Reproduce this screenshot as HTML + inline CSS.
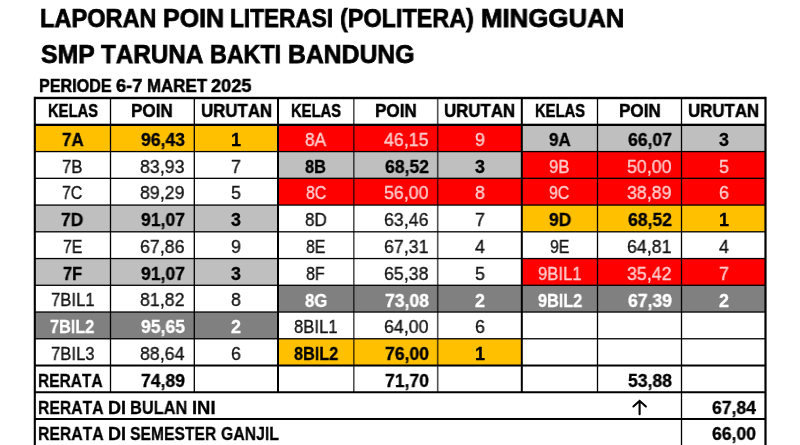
<!DOCTYPE html>
<html><head><meta charset="utf-8"><style>
html,body{margin:0;padding:0;background:#fff;}
#r{position:relative;width:800px;height:445px;overflow:hidden;background:#fff;font-family:"Liberation Sans",sans-serif;}
.a{position:absolute;}
.t{position:absolute;white-space:nowrap;transform-origin:0 50%;font-kerning:none;will-change:transform;}
</style></head><body><div id="r">
<div class="a" style="left:34.50px;top:124.85px;width:243.50px;height:26.74px;background:#FFC000"></div>
<div class="a" style="left:34.50px;top:205.07px;width:243.50px;height:26.74px;background:#BFBFBF"></div>
<div class="a" style="left:34.50px;top:258.55px;width:243.50px;height:26.74px;background:#BFBFBF"></div>
<div class="a" style="left:34.50px;top:312.03px;width:243.50px;height:26.74px;background:#808080"></div>
<div class="a" style="left:278.00px;top:124.85px;width:243.80px;height:26.74px;background:#FF0000"></div>
<div class="a" style="left:278.00px;top:151.59px;width:243.80px;height:26.74px;background:#BFBFBF"></div>
<div class="a" style="left:278.00px;top:178.33px;width:243.80px;height:26.74px;background:#FF0000"></div>
<div class="a" style="left:278.00px;top:285.29px;width:243.80px;height:26.74px;background:#808080"></div>
<div class="a" style="left:278.00px;top:338.77px;width:243.80px;height:26.74px;background:#FFC000"></div>
<div class="a" style="left:521.80px;top:124.85px;width:243.70px;height:26.74px;background:#BFBFBF"></div>
<div class="a" style="left:521.80px;top:151.59px;width:243.70px;height:26.74px;background:#FF0000"></div>
<div class="a" style="left:521.80px;top:178.33px;width:243.70px;height:26.74px;background:#FF0000"></div>
<div class="a" style="left:521.80px;top:205.07px;width:243.70px;height:26.74px;background:#FFC000"></div>
<div class="a" style="left:521.80px;top:258.55px;width:243.70px;height:26.74px;background:#FF0000"></div>
<div class="a" style="left:521.80px;top:285.29px;width:243.70px;height:26.74px;background:#808080"></div>
<svg class="a" style="left:0;top:0" width="800" height="445"><rect x="109.85" y="98.00" width="1.30" height="294.25" fill="#000"/><rect x="193.65" y="98.00" width="1.30" height="294.25" fill="#000"/><rect x="277.00" y="98.00" width="2.00" height="294.25" fill="#000"/><rect x="353.00" y="98.00" width="1.60" height="294.25" fill="rgba(0,0,0,0.68)"/><rect x="436.90" y="98.00" width="1.60" height="294.25" fill="rgba(0,0,0,0.68)"/><rect x="520.80" y="98.00" width="2.00" height="294.25" fill="#000"/><rect x="596.85" y="98.00" width="1.30" height="294.25" fill="#000"/><rect x="680.85" y="98.00" width="1.30" height="294.25" fill="#000"/><rect x="680.85" y="392.25" width="1.30" height="52.85" fill="#000"/><rect x="34.50" y="96.80" width="731.00" height="2.40" fill="#000"/><rect x="34.50" y="123.70" width="731.00" height="2.30" fill="#000"/><rect x="34.50" y="150.94" width="731.00" height="1.30" fill="#000"/><rect x="34.50" y="177.68" width="731.00" height="1.30" fill="#000"/><rect x="34.50" y="204.42" width="731.00" height="1.30" fill="#000"/><rect x="34.50" y="231.16" width="731.00" height="1.30" fill="#000"/><rect x="34.50" y="257.90" width="731.00" height="1.30" fill="#000"/><rect x="34.50" y="284.64" width="731.00" height="1.30" fill="#000"/><rect x="34.50" y="311.38" width="731.00" height="1.30" fill="#000"/><rect x="34.50" y="338.12" width="731.00" height="1.30" fill="#000"/><rect x="34.50" y="364.51" width="731.00" height="2.00" fill="#000"/><rect x="34.50" y="391.25" width="731.00" height="2.00" fill="#000"/><rect x="34.50" y="417.99" width="731.00" height="2.00" fill="#000"/><rect x="33.75" y="96.80" width="2.10" height="348.30" fill="#000"/><rect x="764.40" y="96.80" width="2.20" height="348.30" fill="#000"/></svg>
<div class="t" style="left:48.07px;top:95.89px;height:30px;line-height:30px;font-size:18.5px;font-weight:bold;color:#000;-webkit-text-stroke:0.5px #000;transform:scaleX(0.7984)">KELAS</div>
<div class="t" style="left:131.48px;top:95.89px;height:30px;line-height:30px;font-size:18.5px;font-weight:bold;color:#000;-webkit-text-stroke:0.5px #000;transform:scaleX(0.9251)">POIN</div>
<div class="t" style="left:200.59px;top:95.89px;height:30px;line-height:30px;font-size:18.5px;font-weight:bold;color:#000;-webkit-text-stroke:0.5px #000;transform:scaleX(0.9106)">URUTAN</div>
<div class="t" style="left:291.47px;top:95.89px;height:30px;line-height:30px;font-size:18.5px;font-weight:bold;color:#000;-webkit-text-stroke:0.5px #000;transform:scaleX(0.7984)">KELAS</div>
<div class="t" style="left:374.83px;top:95.89px;height:30px;line-height:30px;font-size:18.5px;font-weight:bold;color:#000;-webkit-text-stroke:0.5px #000;transform:scaleX(0.9251)">POIN</div>
<div class="t" style="left:444.19px;top:95.89px;height:30px;line-height:30px;font-size:18.5px;font-weight:bold;color:#000;-webkit-text-stroke:0.5px #000;transform:scaleX(0.9106)">URUTAN</div>
<div class="t" style="left:535.22px;top:95.89px;height:30px;line-height:30px;font-size:18.5px;font-weight:bold;color:#000;-webkit-text-stroke:0.5px #000;transform:scaleX(0.7984)">KELAS</div>
<div class="t" style="left:618.58px;top:95.89px;height:30px;line-height:30px;font-size:18.5px;font-weight:bold;color:#000;-webkit-text-stroke:0.5px #000;transform:scaleX(0.9251)">POIN</div>
<div class="t" style="left:687.94px;top:95.89px;height:30px;line-height:30px;font-size:18.5px;font-weight:bold;color:#000;-webkit-text-stroke:0.5px #000;transform:scaleX(0.9106)">URUTAN</div>
<div class="t" style="left:61.63px;top:125.11px;height:30px;line-height:30px;font-size:18.0px;font-weight:bold;color:#000;-webkit-text-stroke:0.3px #000;transform:scaleX(0.9451)">7A</div>
<div class="t" style="left:141.28px;top:125.11px;height:30px;line-height:30px;font-size:18.0px;font-weight:bold;color:#000;-webkit-text-stroke:0.3px #000;transform:scaleX(0.9772)">96,43</div>
<div class="t" style="left:231.20px;top:125.11px;height:30px;line-height:30px;font-size:18.0px;font-weight:bold;color:#000;-webkit-text-stroke:0.3px #000;transform:scaleX(0.9898)">1</div>
<div class="t" style="left:62.23px;top:151.64px;height:30px;line-height:30px;font-size:18.6px;color:#151515;-webkit-text-stroke:0.35px #151515;transform:scaleX(0.9030)">7B</div>
<div class="t" style="left:140.19px;top:151.64px;height:30px;line-height:30px;font-size:18.6px;color:#151515;-webkit-text-stroke:0.35px #151515;transform:scaleX(0.9563)">83,93</div>
<div class="t" style="left:231.20px;top:151.64px;height:30px;line-height:30px;font-size:18.6px;color:#151515;-webkit-text-stroke:0.35px #151515;transform:scaleX(0.9579)">7</div>
<div class="t" style="left:62.33px;top:178.38px;height:30px;line-height:30px;font-size:18.6px;color:#151515;-webkit-text-stroke:0.35px #151515;transform:scaleX(0.8552)">7C</div>
<div class="t" style="left:140.19px;top:178.38px;height:30px;line-height:30px;font-size:18.6px;color:#151515;-webkit-text-stroke:0.35px #151515;transform:scaleX(0.9563)">89,29</div>
<div class="t" style="left:231.20px;top:178.38px;height:30px;line-height:30px;font-size:18.6px;color:#151515;-webkit-text-stroke:0.35px #151515;transform:scaleX(0.9579)">5</div>
<div class="t" style="left:61.38px;top:205.33px;height:30px;line-height:30px;font-size:18.0px;font-weight:bold;color:#000;-webkit-text-stroke:0.3px #000;transform:scaleX(0.9666)">7D</div>
<div class="t" style="left:141.28px;top:205.33px;height:30px;line-height:30px;font-size:18.0px;font-weight:bold;color:#000;-webkit-text-stroke:0.3px #000;transform:scaleX(0.9772)">91,07</div>
<div class="t" style="left:231.20px;top:205.33px;height:30px;line-height:30px;font-size:18.0px;font-weight:bold;color:#000;-webkit-text-stroke:0.3px #000;transform:scaleX(0.9898)">3</div>
<div class="t" style="left:62.77px;top:231.86px;height:30px;line-height:30px;font-size:18.6px;color:#151515;-webkit-text-stroke:0.35px #151515;transform:scaleX(0.8551)">7E</div>
<div class="t" style="left:140.19px;top:231.86px;height:30px;line-height:30px;font-size:18.6px;color:#151515;-webkit-text-stroke:0.35px #151515;transform:scaleX(0.9563)">67,86</div>
<div class="t" style="left:231.20px;top:231.86px;height:30px;line-height:30px;font-size:18.6px;color:#151515;-webkit-text-stroke:0.35px #151515;transform:scaleX(0.9579)">9</div>
<div class="t" style="left:62.94px;top:258.81px;height:30px;line-height:30px;font-size:18.0px;font-weight:bold;color:#000;-webkit-text-stroke:0.3px #000;transform:scaleX(0.9098)">7F</div>
<div class="t" style="left:141.28px;top:258.81px;height:30px;line-height:30px;font-size:18.0px;font-weight:bold;color:#000;-webkit-text-stroke:0.3px #000;transform:scaleX(0.9772)">91,07</div>
<div class="t" style="left:231.20px;top:258.81px;height:30px;line-height:30px;font-size:18.0px;font-weight:bold;color:#000;-webkit-text-stroke:0.3px #000;transform:scaleX(0.9898)">3</div>
<div class="t" style="left:50.70px;top:285.34px;height:30px;line-height:30px;font-size:18.6px;color:#151515;-webkit-text-stroke:0.35px #151515;transform:scaleX(0.8969)">7BIL1</div>
<div class="t" style="left:140.19px;top:285.34px;height:30px;line-height:30px;font-size:18.6px;color:#151515;-webkit-text-stroke:0.35px #151515;transform:scaleX(0.9563)">81,82</div>
<div class="t" style="left:231.20px;top:285.34px;height:30px;line-height:30px;font-size:18.6px;color:#151515;-webkit-text-stroke:0.35px #151515;transform:scaleX(0.9579)">8</div>
<div class="t" style="left:50.37px;top:312.29px;height:30px;line-height:30px;font-size:18.0px;font-weight:bold;color:#FFF;-webkit-text-stroke:0.3px #FFF;transform:scaleX(0.9029)">7BIL2</div>
<div class="t" style="left:141.28px;top:312.29px;height:30px;line-height:30px;font-size:18.0px;font-weight:bold;color:#FFF;-webkit-text-stroke:0.3px #FFF;transform:scaleX(0.9772)">95,65</div>
<div class="t" style="left:231.20px;top:312.29px;height:30px;line-height:30px;font-size:18.0px;font-weight:bold;color:#FFF;-webkit-text-stroke:0.3px #FFF;transform:scaleX(0.9898)">2</div>
<div class="t" style="left:50.70px;top:338.82px;height:30px;line-height:30px;font-size:18.6px;color:#151515;-webkit-text-stroke:0.35px #151515;transform:scaleX(0.8969)">7BIL3</div>
<div class="t" style="left:140.19px;top:338.82px;height:30px;line-height:30px;font-size:18.6px;color:#151515;-webkit-text-stroke:0.35px #151515;transform:scaleX(0.9563)">88,64</div>
<div class="t" style="left:231.20px;top:338.82px;height:30px;line-height:30px;font-size:18.6px;color:#151515;-webkit-text-stroke:0.35px #151515;transform:scaleX(0.9579)">6</div>
<div class="t" style="left:305.29px;top:124.90px;height:30px;line-height:30px;font-size:18.6px;color:#FFCCCC;-webkit-text-stroke:0.35px #FFCCCC;transform:scaleX(0.9328)">8A</div>
<div class="t" style="left:383.59px;top:124.90px;height:30px;line-height:30px;font-size:18.6px;color:#FFCCCC;-webkit-text-stroke:0.35px #FFCCCC;transform:scaleX(0.9563)">46,15</div>
<div class="t" style="left:474.80px;top:124.90px;height:30px;line-height:30px;font-size:18.6px;color:#FFCCCC;-webkit-text-stroke:0.35px #FFCCCC;transform:scaleX(0.9579)">9</div>
<div class="t" style="left:305.44px;top:151.85px;height:30px;line-height:30px;font-size:18.0px;font-weight:bold;color:#000;-webkit-text-stroke:0.3px #000;transform:scaleX(0.9094)">8B</div>
<div class="t" style="left:384.68px;top:151.85px;height:30px;line-height:30px;font-size:18.0px;font-weight:bold;color:#000;-webkit-text-stroke:0.3px #000;transform:scaleX(0.9772)">68,52</div>
<div class="t" style="left:474.80px;top:151.85px;height:30px;line-height:30px;font-size:18.0px;font-weight:bold;color:#000;-webkit-text-stroke:0.3px #000;transform:scaleX(0.9898)">3</div>
<div class="t" style="left:305.73px;top:178.38px;height:30px;line-height:30px;font-size:18.6px;color:#FFCCCC;-webkit-text-stroke:0.35px #FFCCCC;transform:scaleX(0.8552)">8C</div>
<div class="t" style="left:383.59px;top:178.38px;height:30px;line-height:30px;font-size:18.6px;color:#FFCCCC;-webkit-text-stroke:0.35px #FFCCCC;transform:scaleX(0.9563)">56,00</div>
<div class="t" style="left:474.80px;top:178.38px;height:30px;line-height:30px;font-size:18.6px;color:#FFCCCC;-webkit-text-stroke:0.35px #FFCCCC;transform:scaleX(0.9579)">8</div>
<div class="t" style="left:304.93px;top:205.12px;height:30px;line-height:30px;font-size:18.6px;color:#151515;-webkit-text-stroke:0.35px #151515;transform:scaleX(0.9226)">8D</div>
<div class="t" style="left:383.59px;top:205.12px;height:30px;line-height:30px;font-size:18.6px;color:#151515;-webkit-text-stroke:0.35px #151515;transform:scaleX(0.9563)">63,46</div>
<div class="t" style="left:474.80px;top:205.12px;height:30px;line-height:30px;font-size:18.6px;color:#151515;-webkit-text-stroke:0.35px #151515;transform:scaleX(0.9579)">7</div>
<div class="t" style="left:306.17px;top:231.86px;height:30px;line-height:30px;font-size:18.6px;color:#151515;-webkit-text-stroke:0.35px #151515;transform:scaleX(0.8551)">8E</div>
<div class="t" style="left:383.59px;top:231.86px;height:30px;line-height:30px;font-size:18.6px;color:#151515;-webkit-text-stroke:0.35px #151515;transform:scaleX(0.9563)">67,31</div>
<div class="t" style="left:474.80px;top:231.86px;height:30px;line-height:30px;font-size:18.6px;color:#151515;-webkit-text-stroke:0.35px #151515;transform:scaleX(0.9579)">4</div>
<div class="t" style="left:306.45px;top:258.60px;height:30px;line-height:30px;font-size:18.6px;color:#151515;-webkit-text-stroke:0.35px #151515;transform:scaleX(0.8703)">8F</div>
<div class="t" style="left:383.59px;top:258.60px;height:30px;line-height:30px;font-size:18.6px;color:#151515;-webkit-text-stroke:0.35px #151515;transform:scaleX(0.9563)">65,38</div>
<div class="t" style="left:474.80px;top:258.60px;height:30px;line-height:30px;font-size:18.6px;color:#151515;-webkit-text-stroke:0.35px #151515;transform:scaleX(0.9579)">5</div>
<div class="t" style="left:304.72px;top:285.55px;height:30px;line-height:30px;font-size:18.0px;font-weight:bold;color:#FFF;-webkit-text-stroke:0.3px #FFF;transform:scaleX(0.9311)">8G</div>
<div class="t" style="left:384.68px;top:285.55px;height:30px;line-height:30px;font-size:18.0px;font-weight:bold;color:#FFF;-webkit-text-stroke:0.3px #FFF;transform:scaleX(0.9772)">73,08</div>
<div class="t" style="left:474.80px;top:285.55px;height:30px;line-height:30px;font-size:18.0px;font-weight:bold;color:#FFF;-webkit-text-stroke:0.3px #FFF;transform:scaleX(0.9898)">2</div>
<div class="t" style="left:294.10px;top:312.08px;height:30px;line-height:30px;font-size:18.6px;color:#151515;-webkit-text-stroke:0.35px #151515;transform:scaleX(0.8969)">8BIL1</div>
<div class="t" style="left:383.59px;top:312.08px;height:30px;line-height:30px;font-size:18.6px;color:#151515;-webkit-text-stroke:0.35px #151515;transform:scaleX(0.9563)">64,00</div>
<div class="t" style="left:474.80px;top:312.08px;height:30px;line-height:30px;font-size:18.6px;color:#151515;-webkit-text-stroke:0.35px #151515;transform:scaleX(0.9579)">6</div>
<div class="t" style="left:293.77px;top:339.03px;height:30px;line-height:30px;font-size:18.0px;font-weight:bold;color:#000;-webkit-text-stroke:0.3px #000;transform:scaleX(0.9029)">8BIL2</div>
<div class="t" style="left:384.68px;top:339.03px;height:30px;line-height:30px;font-size:18.0px;font-weight:bold;color:#000;-webkit-text-stroke:0.3px #000;transform:scaleX(0.9772)">76,00</div>
<div class="t" style="left:474.80px;top:339.03px;height:30px;line-height:30px;font-size:18.0px;font-weight:bold;color:#000;-webkit-text-stroke:0.3px #000;transform:scaleX(0.9898)">1</div>
<div class="t" style="left:548.78px;top:125.11px;height:30px;line-height:30px;font-size:18.0px;font-weight:bold;color:#000;-webkit-text-stroke:0.3px #000;transform:scaleX(0.9451)">9A</div>
<div class="t" style="left:628.48px;top:125.11px;height:30px;line-height:30px;font-size:18.0px;font-weight:bold;color:#000;-webkit-text-stroke:0.3px #000;transform:scaleX(0.9772)">66,07</div>
<div class="t" style="left:718.55px;top:125.11px;height:30px;line-height:30px;font-size:18.0px;font-weight:bold;color:#000;-webkit-text-stroke:0.3px #000;transform:scaleX(0.9898)">3</div>
<div class="t" style="left:549.38px;top:151.64px;height:30px;line-height:30px;font-size:18.6px;color:#FFCCCC;-webkit-text-stroke:0.35px #FFCCCC;transform:scaleX(0.9030)">9B</div>
<div class="t" style="left:627.39px;top:151.64px;height:30px;line-height:30px;font-size:18.6px;color:#FFCCCC;-webkit-text-stroke:0.35px #FFCCCC;transform:scaleX(0.9563)">50,00</div>
<div class="t" style="left:718.55px;top:151.64px;height:30px;line-height:30px;font-size:18.6px;color:#FFCCCC;-webkit-text-stroke:0.35px #FFCCCC;transform:scaleX(0.9579)">5</div>
<div class="t" style="left:549.48px;top:178.38px;height:30px;line-height:30px;font-size:18.6px;color:#FFCCCC;-webkit-text-stroke:0.35px #FFCCCC;transform:scaleX(0.8552)">9C</div>
<div class="t" style="left:627.39px;top:178.38px;height:30px;line-height:30px;font-size:18.6px;color:#FFCCCC;-webkit-text-stroke:0.35px #FFCCCC;transform:scaleX(0.9563)">38,89</div>
<div class="t" style="left:718.55px;top:178.38px;height:30px;line-height:30px;font-size:18.6px;color:#FFCCCC;-webkit-text-stroke:0.35px #FFCCCC;transform:scaleX(0.9579)">6</div>
<div class="t" style="left:548.53px;top:205.33px;height:30px;line-height:30px;font-size:18.0px;font-weight:bold;color:#000;-webkit-text-stroke:0.3px #000;transform:scaleX(0.9666)">9D</div>
<div class="t" style="left:628.48px;top:205.33px;height:30px;line-height:30px;font-size:18.0px;font-weight:bold;color:#000;-webkit-text-stroke:0.3px #000;transform:scaleX(0.9772)">68,52</div>
<div class="t" style="left:718.55px;top:205.33px;height:30px;line-height:30px;font-size:18.0px;font-weight:bold;color:#000;-webkit-text-stroke:0.3px #000;transform:scaleX(0.9898)">1</div>
<div class="t" style="left:549.92px;top:231.86px;height:30px;line-height:30px;font-size:18.6px;color:#151515;-webkit-text-stroke:0.35px #151515;transform:scaleX(0.8551)">9E</div>
<div class="t" style="left:627.39px;top:231.86px;height:30px;line-height:30px;font-size:18.6px;color:#151515;-webkit-text-stroke:0.35px #151515;transform:scaleX(0.9563)">64,81</div>
<div class="t" style="left:718.55px;top:231.86px;height:30px;line-height:30px;font-size:18.6px;color:#151515;-webkit-text-stroke:0.35px #151515;transform:scaleX(0.9579)">4</div>
<div class="t" style="left:537.85px;top:258.60px;height:30px;line-height:30px;font-size:18.6px;color:#FFCCCC;-webkit-text-stroke:0.35px #FFCCCC;transform:scaleX(0.8969)">9BIL1</div>
<div class="t" style="left:627.39px;top:258.60px;height:30px;line-height:30px;font-size:18.6px;color:#FFCCCC;-webkit-text-stroke:0.35px #FFCCCC;transform:scaleX(0.9563)">35,42</div>
<div class="t" style="left:718.55px;top:258.60px;height:30px;line-height:30px;font-size:18.6px;color:#FFCCCC;-webkit-text-stroke:0.35px #FFCCCC;transform:scaleX(0.9579)">7</div>
<div class="t" style="left:537.52px;top:285.55px;height:30px;line-height:30px;font-size:18.0px;font-weight:bold;color:#FFF;-webkit-text-stroke:0.3px #FFF;transform:scaleX(0.9029)">9BIL2</div>
<div class="t" style="left:628.48px;top:285.55px;height:30px;line-height:30px;font-size:18.0px;font-weight:bold;color:#FFF;-webkit-text-stroke:0.3px #FFF;transform:scaleX(0.9772)">67,39</div>
<div class="t" style="left:718.55px;top:285.55px;height:30px;line-height:30px;font-size:18.0px;font-weight:bold;color:#FFF;-webkit-text-stroke:0.3px #FFF;transform:scaleX(0.9898)">2</div>
<div class="t" style="left:37.50px;top:365.77px;height:30px;line-height:30px;font-size:18.0px;font-weight:bold;color:#000;-webkit-text-stroke:0.3px #000;transform:scaleX(0.8615)">RERATA</div>
<div class="t" style="left:141.28px;top:365.77px;height:30px;line-height:30px;font-size:18.0px;font-weight:bold;color:#000;-webkit-text-stroke:0.3px #000;transform:scaleX(0.9772)">74,89</div>
<div class="t" style="left:384.68px;top:365.77px;height:30px;line-height:30px;font-size:18.0px;font-weight:bold;color:#000;-webkit-text-stroke:0.3px #000;transform:scaleX(0.9772)">71,70</div>
<div class="t" style="left:628.48px;top:365.77px;height:30px;line-height:30px;font-size:18.0px;font-weight:bold;color:#000;-webkit-text-stroke:0.3px #000;transform:scaleX(0.9772)">53,88</div>
<div class="t" style="left:37.50px;top:392.51px;height:30px;line-height:30px;font-size:18.0px;font-weight:bold;color:#000;-webkit-text-stroke:0.3px #000;transform:scaleX(0.8738)">RERATA</div>
<div class="t" style="left:107.52px;top:392.51px;height:30px;line-height:30px;font-size:18.0px;font-weight:bold;color:#000;-webkit-text-stroke:0.3px #000;transform:scaleX(0.9909)">DI</div>
<div class="t" style="left:129.83px;top:392.51px;height:30px;line-height:30px;font-size:18.0px;font-weight:bold;color:#000;-webkit-text-stroke:0.3px #000;transform:scaleX(0.9097)">BULAN</div>
<div class="t" style="left:191.62px;top:392.51px;height:30px;line-height:30px;font-size:18.0px;font-weight:bold;color:#000;-webkit-text-stroke:0.3px #000;transform:scaleX(1.0246)">INI</div>
<svg class="a" style="left:0;top:0" width="800" height="445"><path d="M639.6 414.3V401.8M633.4 406.5L639.6 400.8L645.9 406.5" fill="none" stroke="#000" stroke-width="2.1" stroke-linecap="round" stroke-linejoin="miter"/></svg>
<div class="t" style="left:712.48px;top:392.51px;height:30px;line-height:30px;font-size:18.0px;font-weight:bold;color:#000;-webkit-text-stroke:0.3px #000;transform:scaleX(0.9772)">67,84</div>
<div class="t" style="left:37.50px;top:419.25px;height:30px;line-height:30px;font-size:18.0px;font-weight:bold;color:#000;-webkit-text-stroke:0.3px #000;transform:scaleX(0.8751)">RERATA</div>
<div class="t" style="left:107.62px;top:419.25px;height:30px;line-height:30px;font-size:18.0px;font-weight:bold;color:#000;-webkit-text-stroke:0.3px #000;transform:scaleX(0.9924)">DI</div>
<div class="t" style="left:129.97px;top:419.25px;height:30px;line-height:30px;font-size:18.0px;font-weight:bold;color:#000;-webkit-text-stroke:0.3px #000;transform:scaleX(0.8712)">SEMESTER</div>
<div class="t" style="left:220.73px;top:419.25px;height:30px;line-height:30px;font-size:18.0px;font-weight:bold;color:#000;-webkit-text-stroke:0.3px #000;transform:scaleX(0.8780)">GANJIL</div>
<div class="t" style="left:712.48px;top:419.25px;height:30px;line-height:30px;font-size:18.0px;font-weight:bold;color:#000;-webkit-text-stroke:0.3px #000;transform:scaleX(0.9772)">66,00</div>
<div class="t" style="left:39.50px;top:2.72px;height:30px;line-height:30px;font-size:26.2px;font-weight:bold;color:#000;-webkit-text-stroke:0.75px #000;transform:scaleX(0.8997)">LAPORAN</div>
<div class="t" style="left:162.58px;top:2.72px;height:30px;line-height:30px;font-size:26.2px;font-weight:bold;color:#000;-webkit-text-stroke:0.75px #000;transform:scaleX(0.9559)">POIN</div>
<div class="t" style="left:230.34px;top:2.72px;height:30px;line-height:30px;font-size:26.2px;font-weight:bold;color:#000;-webkit-text-stroke:0.75px #000;transform:scaleX(0.8649)">LITERASI</div>
<div class="t" style="left:340.11px;top:2.72px;height:30px;line-height:30px;font-size:26.2px;font-weight:bold;color:#000;-webkit-text-stroke:0.75px #000;transform:scaleX(0.8940)">(POLITERA)</div>
<div class="t" style="left:480.66px;top:2.72px;height:30px;line-height:30px;font-size:26.2px;font-weight:bold;color:#000;-webkit-text-stroke:0.75px #000;transform:scaleX(0.9858)">MINGGUAN</div>
<div class="t" style="left:40.80px;top:39.22px;height:30px;line-height:30px;font-size:26.2px;font-weight:bold;color:#000;-webkit-text-stroke:0.75px #000;transform:scaleX(0.9472)">SMP</div>
<div class="t" style="left:101.09px;top:39.22px;height:30px;line-height:30px;font-size:26.2px;font-weight:bold;color:#000;-webkit-text-stroke:0.75px #000;transform:scaleX(0.9257)">TARUNA</div>
<div class="t" style="left:209.99px;top:39.22px;height:30px;line-height:30px;font-size:26.2px;font-weight:bold;color:#000;-webkit-text-stroke:0.75px #000;transform:scaleX(0.8874)">BAKTI</div>
<div class="t" style="left:287.53px;top:39.22px;height:30px;line-height:30px;font-size:26.2px;font-weight:bold;color:#000;-webkit-text-stroke:0.75px #000;transform:scaleX(0.9443)">BANDUNG</div>
<div class="t" style="left:38.70px;top:70.91px;height:30px;line-height:30px;font-size:19.0px;font-weight:bold;color:#000;-webkit-text-stroke:0.55px #000;transform:scaleX(0.8508)">PERIODE</div>
<div class="t" style="left:115.97px;top:70.91px;height:30px;line-height:30px;font-size:19.0px;font-weight:bold;color:#000;-webkit-text-stroke:0.55px #000;transform:scaleX(0.9584)">6-7</div>
<div class="t" style="left:146.79px;top:70.91px;height:30px;line-height:30px;font-size:19.0px;font-weight:bold;color:#000;-webkit-text-stroke:0.55px #000;transform:scaleX(0.8882)">MARET</div>
<div class="t" style="left:211.30px;top:70.91px;height:30px;line-height:30px;font-size:19.0px;font-weight:bold;color:#000;-webkit-text-stroke:0.55px #000;transform:scaleX(0.9564)">2025</div>
</div></body></html>
